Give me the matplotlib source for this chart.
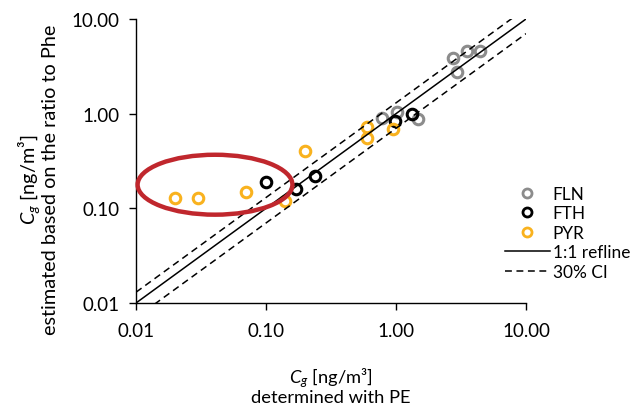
import matplotlib
matplotlib.use("Agg")
import matplotlib.pyplot as plt
from matplotlib.patches import Ellipse
from matplotlib.lines import Line2D
from matplotlib.ticker import FixedLocator, NullLocator
import numpy as np

FONT = "Lato"
plt.rcParams['font.family'] = [FONT, 'DejaVu Sans']
plt.rcParams['mathtext.fontset'] = 'custom'
plt.rcParams['mathtext.it'] = FONT + ':italic'
plt.rcParams['mathtext.rm'] = FONT

# data
fln_x = [0.78, 1.01, 1.47, 2.76, 2.93, 3.53, 4.43]
fln_y = [0.91, 1.03, 0.88, 3.84, 2.73, 4.61, 4.61]
fth_x = [0.10, 0.17, 0.24, 0.98, 1.32]
fth_y = [0.19, 0.16, 0.22, 0.84, 1.00]
pyr_x = [0.02, 0.03, 0.07, 0.14, 0.20, 0.60, 0.60, 0.95]
pyr_y = [0.13, 0.13, 0.15, 0.12, 0.40, 0.73, 0.55, 0.69]
ref_x = [0.01, 10.0]
ci_upper = 1.3
ci_lower = 0.7
ticks = [0.01, 0.1, 1, 10]
tick_labels = ["0.01", "0.10", "1.00", "10.00"]
series_names = ["FLN", "FTH", "PYR"]
colors = ["#8c8c8c", "#000000", "#f9b21e"]

FS_TICK = 13.5
FS_XLABEL = 13.2
FS_YLABEL = 14.3
FS_LEG = 12.4

fig = plt.figure(figsize=(6.32, 4.06), dpi=100)
ax = fig.add_axes([136/632, 1-304/406, 390/632, 284/406])
ax.set_xscale('log')
ax.set_yscale('log')
ax.set_xlim(0.01, 10)
ax.set_ylim(0.01, 10)

ms, mew = 7.6, 2.2
for xs, ys, c in zip([fln_x, fth_x, pyr_x], [fln_y, fth_y, pyr_y], colors):
    ax.plot(xs, ys, linestyle='none', marker='o', markerfacecolor='none',
            markeredgecolor=c, markersize=ms, markeredgewidth=mew, zorder=3)

rx = np.array(ref_x)
ax.plot(rx, rx, color='black', lw=1.1, zorder=4)
ax.plot(rx, rx * ci_upper, color='black', lw=1.1, ls=(0, (4.5, 3)), zorder=4)
ax.plot(rx, rx * ci_lower, color='black', lw=1.1, ls=(0, (4.5, 3)), zorder=4)

for s in ['top', 'right']:
    ax.spines[s].set_visible(False)
for s in ['left', 'bottom']:
    ax.spines[s].set_linewidth(1.0)

ax.xaxis.set_major_locator(FixedLocator(ticks))
ax.yaxis.set_major_locator(FixedLocator(ticks))
ax.xaxis.set_minor_locator(NullLocator())
ax.yaxis.set_minor_locator(NullLocator())
ax.set_xticklabels(tick_labels)
ax.set_yticklabels(tick_labels)
ax.tick_params(axis='both', direction='out', length=5, width=1.0, labelsize=FS_TICK, colors='black')
ax.tick_params(axis='x', pad=9)
ax.tick_params(axis='y', pad=7)

# red ellipse annotation
ell = Ellipse((0.2026, 0.4165), 0.397, 0.211, transform=ax.transAxes,
              fill=False, edgecolor='#c0272d', lw=3.2, zorder=5, clip_on=False)
ax.add_patch(ell)

# axis labels
fig.text(331/632, 1-386/406, "$C_g$ [ng/m³]\ndetermined with PE", ha='center', va='center',
         fontsize=FS_XLABEL, linespacing=1.0, multialignment='center')
fig.text(38/632, 1-180/406, "$C_g$ [ng/m³]\nestimated based on the ratio to Phe", ha='center', va='center',
         rotation=90, fontsize=FS_YLABEL, linespacing=1.0, multialignment='center')

handles = [Line2D([], [], linestyle='none', marker='o', markerfacecolor='none',
                  markeredgecolor=c, markersize=6.5, markeredgewidth=2.0) for c in colors]
handles.append(Line2D([], [], color='black', lw=1.1))
handles.append(Line2D([], [], color='black', lw=1.1, ls=(0, (4.5, 3))))
labels = series_names + ["1:1 refline", "30% CI"]
fig.legend(handles, labels, loc='upper left', bbox_to_anchor=(505/632, 1-187/406),
           frameon=False, fontsize=FS_LEG, handlelength=2.6, handletextpad=0.17,
           labelspacing=0.2, borderpad=0, borderaxespad=0)

fig.savefig("out.png", dpi=100)
